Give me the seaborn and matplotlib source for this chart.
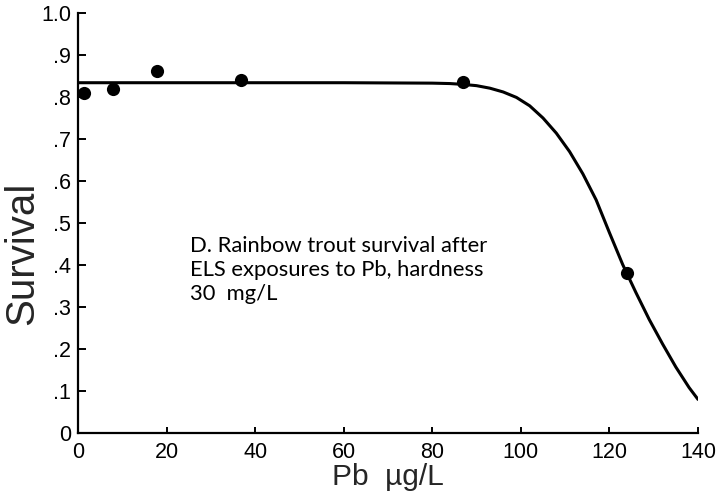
import numpy as np
import pandas as pd
import seaborn as sns
import matplotlib
matplotlib.use("Agg")
import matplotlib.pyplot as plt

# observed survival per Pb concentration
pb_obs = [1.4, 7.9, 17.8, 36.9, 86.9, 123.9]
surv_obs = [0.809, 0.819, 0.863, 0.840, 0.835, 0.380]

# fitted curve
pb_fit = [0, 20, 40, 60, 80, 84, 87, 90, 93, 96, 99, 102, 105, 108, 111,
          114, 117, 120, 123, 126, 129, 132, 135, 138, 140]
surv_fit = [0.834, 0.834, 0.834, 0.834, 0.833, 0.832, 0.830, 0.827, 0.821,
            0.812, 0.799, 0.779, 0.750, 0.714, 0.670, 0.617, 0.555, 0.477,
            0.401, 0.334, 0.270, 0.212, 0.157, 0.108, 0.080]

x_ticks = [0, 20, 40, 60, 80, 100, 120, 140]
y_ticks = [0, 0.1, 0.2, 0.3, 0.4, 0.5, 0.6, 0.7, 0.8, 0.9, 1.0]
y_ticklabels = ["0", ".1", ".2", ".3", ".4", ".5", ".6", ".7", ".8", ".9", "1.0"]

note = "D. Rainbow trout survival after\nELS exposures to Pb, hardness\n30  mg/L"

sns.set_style("ticks")
plt.rcParams["font.family"] = ["Liberation Sans", "DejaVu Sans"]

df_obs = pd.DataFrame({"pb": pb_obs, "surv": surv_obs})
df_fit = pd.DataFrame({"pb": pb_fit, "surv": surv_fit})

fig = plt.figure(figsize=(7.2, 4.97), dpi=100)
ax = fig.add_axes([78 / 720, 1 - 433 / 497, 620 / 720, 420 / 497])

sns.lineplot(data=df_fit, x="pb", y="surv", ax=ax, color="black",
             linewidth=2.2, sort=False)
sns.scatterplot(data=df_obs, x="pb", y="surv", ax=ax, color="black",
                s=90, edgecolor="black", linewidth=0, zorder=5, clip_on=False)

ax.set_xlim(0, 140)
ax.set_ylim(0, 1.0)
ax.set_xticks(x_ticks)
ax.set_yticks(y_ticks)
ax.set_yticklabels(y_ticklabels)
sns.despine(ax=ax)
for s in ["left", "bottom"]:
    ax.spines[s].set_linewidth(1.6)
    ax.spines[s].set_color("black")

ax.tick_params(axis="x", direction="in", length=4.3, width=1.4,
               labelsize=15.5, pad=6.5, colors="black")
ax.tick_params(axis="y", direction="in", length=6, width=1.4,
               labelsize=15.5, pad=5, colors="black")

ax.set_xlabel("Pb  µg/L", fontsize=21.5)
ax.set_ylabel("Survival", fontsize=29)
ax.xaxis.set_label_coords(0.5, -0.072)
ax.yaxis.set_label_coords(-0.060, 0.427)

ax.text(25.4, 0.470, note, fontsize=15.8, family=["Lato", "DejaVu Sans"],
        va="top", ha="left", linespacing=1.25, color="black")

fig.savefig("out.png", dpi=100)
